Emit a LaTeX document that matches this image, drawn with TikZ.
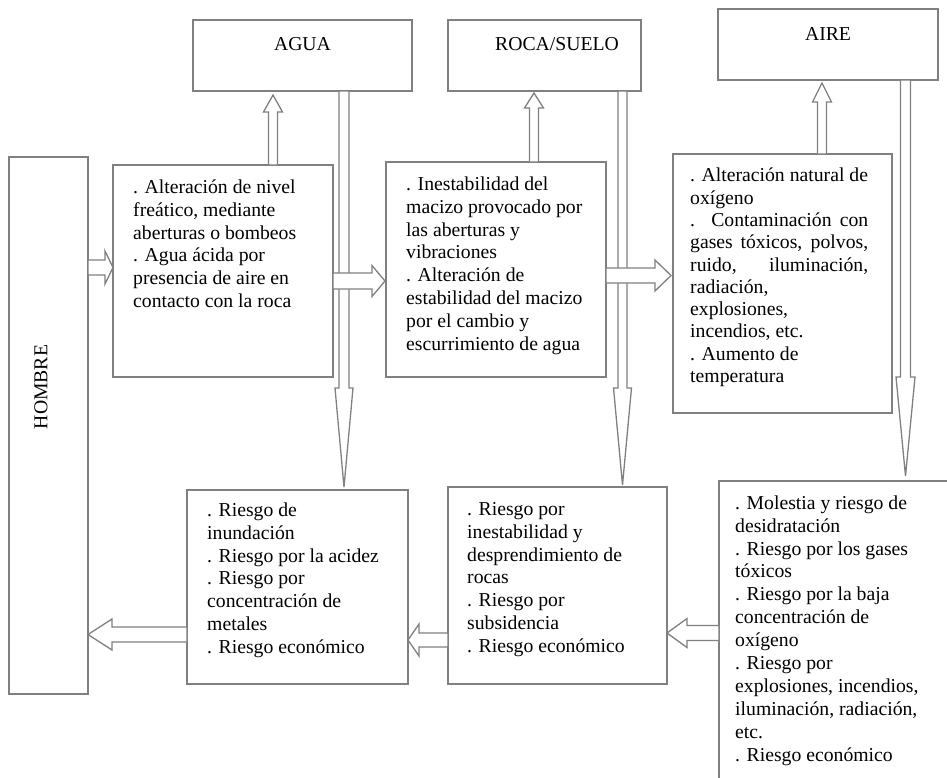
\documentclass[tikz,border=0pt]{standalone}
\usepackage{fontspec}
\setmainfont{Liberation Serif}
\usetikzlibrary{calc}

\definecolor{linegray}{RGB}{128,128,128}
\newcommand\bodyfont{\fontsize{19.7}{22.9}\selectfont}
\newcommand\airfont{\fontsize{19.7}{22.3}\selectfont}

% hollow block arrow: #1 tail, #2 tip, #3 half shaft width, #4 half head width, #5 head length
\newcommand\hollowarrow[5]{%
  \coordinate (ha-b) at ($(#2)!#5pt!(#1)$);
  \path[hollow] ($(#1)!#3pt!90:(#2)$) -- ($(ha-b)!#3pt!90:(#2)$)
    -- ($(ha-b)!#4pt!90:(#2)$) -- (#2) -- ($(ha-b)!#4pt!-90:(#2)$)
    -- ($(ha-b)!#3pt!-90:(#2)$) -- ($(#1)!#3pt!-90:(#2)$) -- cycle;}

\tikzset{
  frame/.style={draw=linegray, line width=1.5pt, fill=white, inner sep=0pt,
    outer sep=0pt, anchor=north west},
  body/.style={font=\bodyfont, align=left, inner sep=0pt, anchor=north west},
  title/.style={font=\bodyfont, inner sep=0pt, anchor=base},
  hollow/.style={draw=linegray, line width=1.3pt, fill=white, line join=miter},
}

\begin{document}
\begin{tikzpicture}[x=1pt, y=-1pt]
\useasboundingbox (0,0) rectangle (947,777);
\clip (0,0) rectangle (947,777);

% top boxes
\node[frame, minimum width=219, minimum height=71] (agua) at (193,20) {};
\node[title] (aguaT) at ($(agua.north)+(0,30)$) {AGUA};
\node[frame, minimum width=193, minimum height=71] (roca) at (448,20) {};
\node[title] (rocaT) at ($(roca.north west)+(109,30)$) {ROCA/SUELO};
\node[frame, minimum width=220, minimum height=71] (aire) at (718,9) {};
\node[title] (aireT) at ($(aire.north)+(0,31)$) {AIRE};

% man
\node[frame, minimum width=79, minimum height=537] (hombre) at (9,157) {};
\node[font=\bodyfont, rotate=90, inner sep=0pt] (hombreT) at (41,387) {HOMBRE};

% effect boxes
\node[frame, minimum width=220, minimum height=212] (wbox) at (113,165) {};
\node[body] (wtext) at ($(wbox.north west)+(20,12)$) {\strut. Alteración de nivel\\
freático, mediante\\ aberturas o bombeos\\ . Agua ácida por\\
presencia de aire en\\ contacto con la roca};

\node[frame, minimum width=220, minimum height=215] (rbox) at (386,162) {};
\node[body] (rtext) at ($(rbox.north west)+(20,12)$) {\strut. Inestabilidad del\\
macizo provocado por\\ las aberturas y\\ vibraciones\\ . Alteración de\\
estabilidad del macizo\\ por el cambio y\\ escurrimiento de agua};

\node[frame, minimum width=219, minimum height=259] (abox) at (673,154) {};
\node[body, font=\airfont] (atext) at ($(abox.north west)+(17,12)$) {\strut. Alteración natural de\\
oxígeno\\ \makebox[178pt][s]{. Contaminación con}\\
\makebox[178pt][s]{gases tóxicos, polvos,}\\ \makebox[178pt][s]{ruido, iluminación,}\\
radiación,\\ explosiones,\\ incendios, etc.\\ . Aumento de\\ temperatura};

% risk boxes
\node[frame, minimum width=221, minimum height=194] (wrisk) at (187,490) {};
\node[body] (wrtext) at ($(wrisk.north west)+(20,10)$) {\strut. Riesgo de\\
inundación\\ . Riesgo por la acidez\\ . Riesgo por\\ concentración de\\
metales\\ . Riesgo económico};

\node[frame, minimum width=219, minimum height=197] (rrisk) at (448,487) {};
\node[body] (rrtext) at ($(rrisk.north west)+(19,12)$) {\strut. Riesgo por\\
inestabilidad y\\ desprendimiento de\\ rocas\\ . Riesgo por\\ subsidencia\\
. Riesgo económico};

\node[frame, minimum width=300, minimum height=330] (arisk) at (719,481) {};
\node[body] (artext) at ($(arisk.north west)+(16,12)$) {\strut. Molestia y riesgo de\\
desidratación\\ . Riesgo por los gases\\ tóxicos\\ . Riesgo por la baja\\
concentración de\\ oxígeno\\ . Riesgo por\\ explosiones, incendios,\\
iluminación, radiación,\\ etc.\\ . Riesgo económico};

% downward arrows from each medium
\hollowarrow{$(agua.south west)+(151,0)$}{$(wrisk.north west)+(157,-3)$}{5}{9}{99}
\hollowarrow{$(roca.south west)+(174.5,0)$}{$(rrisk.north west)+(174.5,-2)$}{4.5}{9}{97}
\hollowarrow{$(aire.south west)+(187.5,0)$}{$(arisk.north west)+(186.5,-5)$}{5}{9.5}{99}

% upward arrows to each medium
\hollowarrow{$(wbox.north west)+(160,0)$}{$(agua.south west)+(80,4)$}{4.5}{9.5}{17}
\hollowarrow{$(rbox.north west)+(148,0)$}{$(roca.south west)+(86,2)$}{4.5}{9.5}{15}
\hollowarrow{$(abox.north west)+(149,0)$}{$(aire.south west)+(104,3)$}{4.5}{9.5}{19}

% horizontal chain of effects
\hollowarrow{$(hombre.north east)+(0,110.5)$}{$(wbox.north west)+(0,102.5)$}{7.5}{16.5}{8}
\hollowarrow{$(wbox.north east)+(0,116)$}{$(rbox.north west)+(-1,119)$}{8}{15.5}{13}
\hollowarrow{$(rbox.north east)+(0,113.5)$}{$(abox.north west)+(-2,121.5)$}{7.5}{15.5}{16}

% risks back towards man
\hollowarrow{$(arisk.north west)+(0,152)$}{$(rrisk.north east)+(0,146)$}{7.5}{14.5}{20}
\hollowarrow{$(rrisk.north west)+(0,153)$}{$(wrisk.north east)+(0,150)$}{7}{16}{11}
\hollowarrow{$(wrisk.north west)+(0,144.5)$}{$(hombre.north east)+(0,477.5)$}{7.5}{15.5}{24}
\end{tikzpicture}
\end{document}
